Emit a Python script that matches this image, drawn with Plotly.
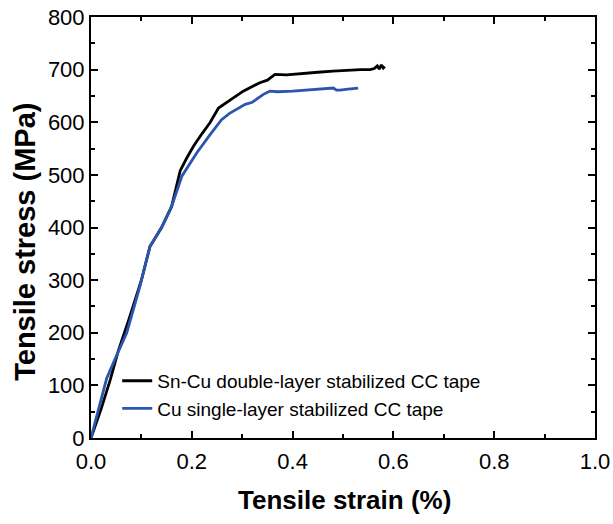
import plotly.graph_objects as go

# Sn-Cu double-layer stabilized CC tape (black)
strain_sncu = [0.0, 0.02, 0.038, 0.054, 0.075, 0.1, 0.117, 0.14, 0.16, 0.177, 0.19, 0.203,
               0.22, 0.236, 0.253, 0.269, 0.285, 0.302, 0.32, 0.335, 0.35, 0.365, 0.388,
               0.42, 0.45, 0.48, 0.51, 0.535, 0.554, 0.562, 0.568, 0.572, 0.576, 0.58, 0.583]
stress_sncu = [0, 55, 110, 165, 225, 300, 364, 400, 440, 508, 532, 554,
               578, 599, 627, 637, 648, 659, 668, 675, 680, 691, 690,
               693, 695, 697, 699, 700, 700, 702, 707, 701, 709, 703, 706]

# Cu single-layer stabilized CC tape (blue)
strain_cu = [0.0, 0.015, 0.031, 0.05, 0.071, 0.097, 0.117, 0.14, 0.16, 0.18, 0.195, 0.21,
             0.236, 0.259, 0.275, 0.289, 0.306, 0.32, 0.332, 0.342, 0.355, 0.37, 0.40,
             0.44, 0.481, 0.487, 0.494, 0.51, 0.53]
stress_cu = [0, 55, 113, 155, 200, 288, 364, 400, 440, 497, 520, 542,
             576, 605, 617, 625, 634, 638, 646, 653, 659, 658, 659,
             662, 665, 661, 661, 663, 665]

x_ticks = [0.0, 0.2, 0.4, 0.6, 0.8, 1.0]
x_labels = ["0.0", "0.2", "0.4", "0.6", "0.8", "1.0"]
y_ticks = [0, 100, 200, 300, 400, 500, 600, 700, 800]

fig = go.Figure()
fig.add_trace(go.Scatter(x=strain_sncu, y=stress_sncu, mode="lines",
                         name="Sn-Cu double-layer stabilized CC tape",
                         line=dict(color="black", width=2.8)))
fig.add_trace(go.Scatter(x=strain_cu, y=stress_cu, mode="lines",
                         name="Cu single-layer stabilized CC tape",
                         line=dict(color="#2a56b0", width=2.8)))

tickfont = dict(family="Liberation Sans, Arial", size=22, color="black")
axis_common = dict(showline=True, linecolor="black", linewidth=2, mirror="ticks",
                   ticks="inside", ticklen=7, tickwidth=1.5, tickcolor="black",
                   showgrid=False, zeroline=False, tickfont=tickfont, automargin=False)

fig.update_xaxes(range=[0, 1.0], tickvals=x_ticks, ticktext=x_labels,
                 ticklabelstandoff=3,
                 minor=dict(dtick=0.1, ticks="inside", ticklen=4, tickwidth=1.5, tickcolor="black"),
                 **axis_common)
fig.update_yaxes(range=[0, 800], tickvals=y_ticks,
                 minor=dict(dtick=50, ticks="inside", ticklen=4, tickwidth=1.5, tickcolor="black"),
                 **axis_common)

fig.update_layout(
    width=613, height=524,
    margin=dict(l=91, r=18, t=17, b=86),
    plot_bgcolor="white", paper_bgcolor="white",
    showlegend=True,
    legend=dict(x=0.052, y=0.024, xanchor="left", yanchor="bottom",
                bgcolor="rgba(0,0,0,0)", borderwidth=0, tracegroupgap=0,
                font=dict(family="Liberation Sans, Arial", size=19, color="black")),
    annotations=[
        dict(text="<b>Tensile strain (%)</b>", xref="paper", yref="paper",
             x=0.503, y=-0.147, xanchor="center", yanchor="middle", showarrow=False,
             font=dict(family="Liberation Sans, Arial", size=26, color="black")),
        dict(text="<b>Tensile stress (MPa)</b>", xref="paper", yref="paper",
             x=-0.131, y=0.466, xanchor="center", yanchor="middle", showarrow=False,
             textangle=-90,
             font=dict(family="Liberation Sans, Arial", size=29, color="black")),
    ],
)

fig.write_html("out.html", config={"displayModeBar": False},
               post_script="document.body.style.margin='0';document.body.style.overflow='hidden';")
